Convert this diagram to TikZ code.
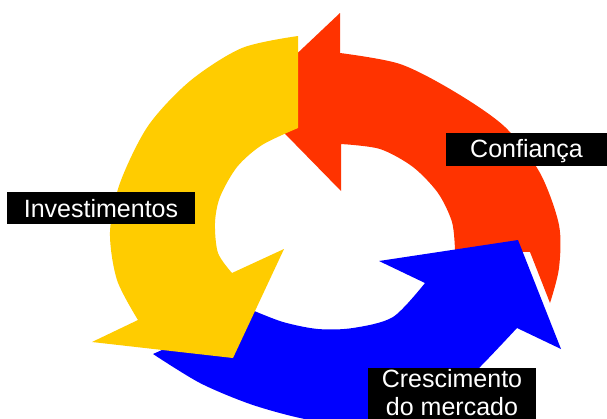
\documentclass[tikz,border=0pt]{standalone}
\usepackage{fontspec}
\setmainfont{Liberation Sans}
\definecolor{redA}{HTML}{FF3300}
\definecolor{yellowA}{HTML}{FFCC00}
\definecolor{blueA}{HTML}{0000FF}
\tikzset{
  lbl/.style={fill=black, text=white, inner xsep=0pt, inner ysep=0pt,
    font=\fontsize{25}{28}\selectfont},
}
\begin{document}
\begin{tikzpicture}[x=1pt,y=-1pt]
\useasboundingbox (0,0) rectangle (607,418);
\fill[white] (0,0) rectangle (607,418);
\clip (0,0) rectangle (607,418);
% red arrow (Confianca)
\fill[redA] (340,13) -- plot[smooth] coordinates {(340,53) (400,64) (455,92) (505,127) (540,173) (559,225) (559,268) (550,303)}
  -- (530,252) -- (455,250)
  -- plot[smooth] coordinates {(455,250) (452,222) (438,193) (413,167) (380,149) (341,144)}
  -- (341,191) -- (250,98) -- cycle;
% blue arrow (Crescimento do mercado)
\fill[blueA] (252,310) -- plot[smooth] coordinates {(153,354) (200,383) (250,404) (300,418) (350,426) (400,421) (445,400) (480,367) (517,328)}
  -- (561,349) -- (518,240) -- (379,261)
  -- plot[smooth] coordinates {(425,283) (393,317) (353,328) (318,329) (283,322) (252,310)}
  -- cycle;
% yellow arrow (Investimentos)
\fill[yellowA] (298,128) -- plot[smooth] coordinates {(298,36) (242,48) (190,81) (148,126) (120,183) (110,232) (117,280) (138,320)}
  -- (92,342) -- (233,358) -- (284,249)
  -- plot[smooth] coordinates {(232,273) (218,253) (215,223) (220,197) (237,167) (262,145) (298,128)}
  -- cycle;
% labels
\node[lbl, anchor=base, text height=24pt, text depth=9pt, minimum width=161pt] (conf) at (526.5,157) {Confiança};
\node[lbl, anchor=base, text height=25pt, text depth=7pt, minimum width=188pt] (inv) at (101,217) {Investimentos};
\node[lbl, anchor=north, align=center, minimum width=168pt, inner ysep=1pt] (cresc) at (452,368) {Crescimento\\do mercado\rule[-14pt]{0pt}{14pt}};
\end{tikzpicture}
\end{document}
